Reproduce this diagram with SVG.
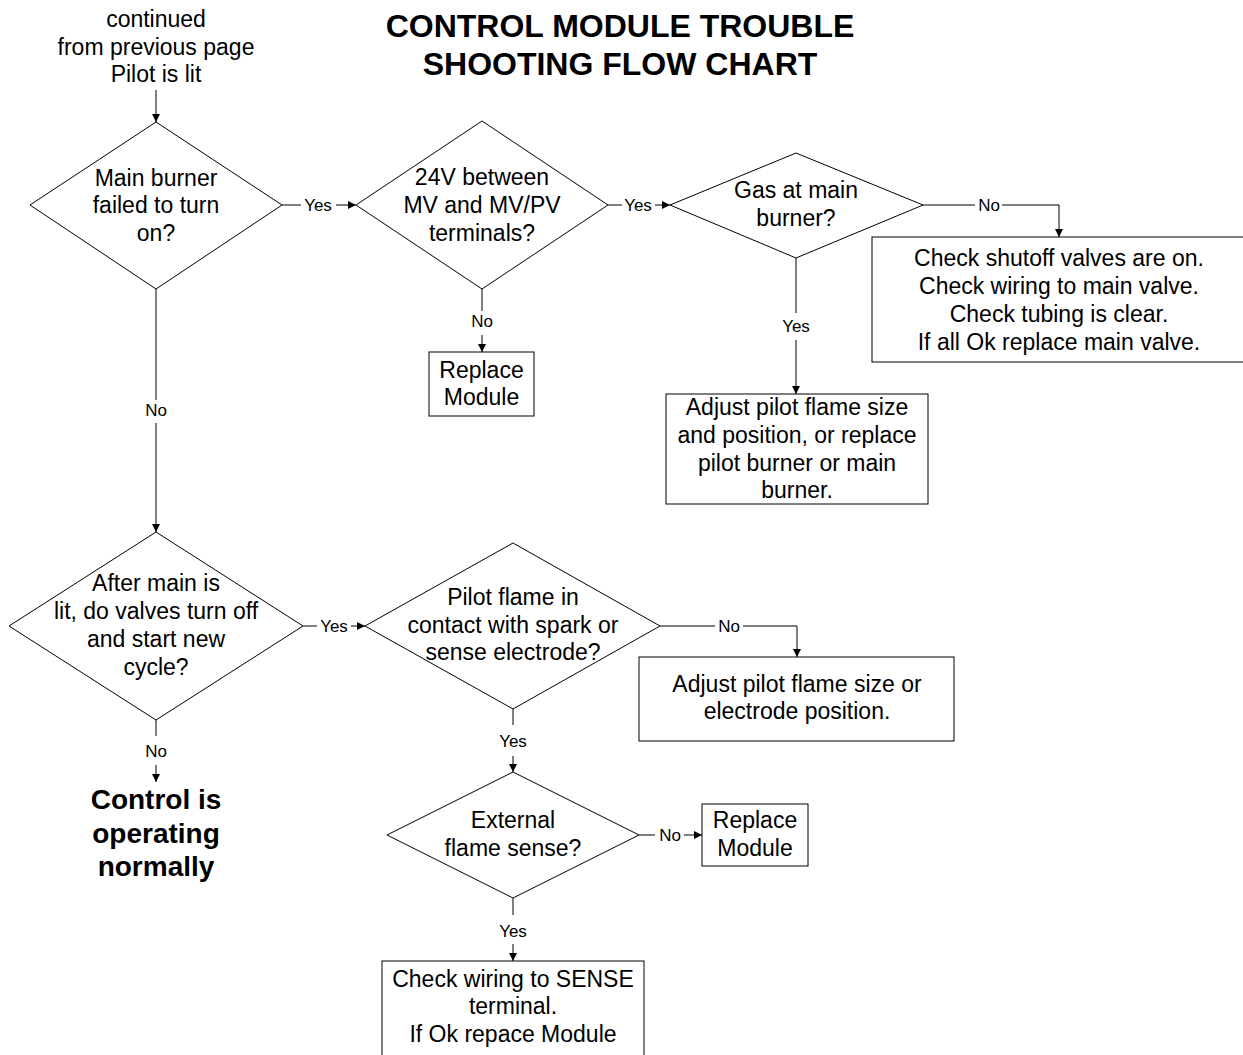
<svg xmlns="http://www.w3.org/2000/svg" width="1243" height="1055" viewBox="0 0 1243 1055">
<defs>
<marker id="ah" viewBox="0 0 10 10" refX="10" refY="5" markerWidth="8" markerHeight="8" markerUnits="userSpaceOnUse" orient="auto">
<path d="M0,0 L10,5 L0,10 Z" fill="#000"/>
</marker>
<style>
.t{font-family:"Liberation Sans",Arial,sans-serif;font-size:23px;fill:#000;text-anchor:middle}
.lb{font-family:"Liberation Sans",Arial,sans-serif;font-size:17px;fill:#000;text-anchor:middle}
.ttl{font-family:"Liberation Sans",Arial,sans-serif;font-size:32px;font-weight:bold;fill:#000;text-anchor:middle}
.bt{font-family:"Liberation Sans",Arial,sans-serif;font-size:28px;font-weight:bold;fill:#000;text-anchor:middle}
.s{fill:#fff;stroke:#000;stroke-width:1}
.c{fill:none;stroke:#000;stroke-width:1}
.a{fill:none;stroke:#000;stroke-width:1;marker-end:url(#ah)}
</style>
</defs>
<rect width="1243" height="1055" fill="#fff"/>

<g id="title">
<text class="ttl" x="620" y="37">CONTROL MODULE TROUBLE</text>
<text class="ttl" x="620" y="75">SHOOTING FLOW CHART</text>
</g>

<g id="start">
<text class="t" x="156" y="27">continued</text>
<text class="t" x="156" y="55">from previous page</text>
<text class="t" x="156" y="82">Pilot is lit</text>
</g>

<g id="d1">
<polygon class="s" points="156,122 282,205 156,289 30,205"/>
<text class="t" x="156" y="186">Main burner</text>
<text class="t" x="156" y="213">failed to turn</text>
<text class="t" x="156" y="241">on?</text>
</g>

<g id="d2">
<polygon class="s" points="482,121 608,205 482,289 356,205"/>
<text class="t" x="482" y="185">24V between</text>
<text class="t" x="482" y="213">MV and MV/PV</text>
<text class="t" x="482" y="241">terminals?</text>
</g>

<g id="r1">
<rect class="s" x="429" y="352" width="105" height="64"/>
<text class="t" x="481.5" y="378">Replace</text>
<text class="t" x="481.5" y="405">Module</text>
</g>

<g id="d3">
<polygon class="s" points="796,153 923,205 796,258 670,205"/>
<text class="t" x="796" y="198">Gas at main</text>
<text class="t" x="796" y="226">burner?</text>
</g>

<g id="b1">
<rect class="s" x="872" y="237" width="380" height="125"/>
<text class="t" x="1059" y="266">Check shutoff valves are on.</text>
<text class="t" x="1059" y="294">Check wiring to main valve.</text>
<text class="t" x="1059" y="322">Check tubing is clear.</text>
<text class="t" x="1059" y="350">If all Ok replace main valve.</text>
</g>

<g id="b2">
<rect class="s" x="666" y="394" width="262" height="110"/>
<text class="t" x="797" y="415">Adjust pilot flame size</text>
<text class="t" x="797" y="443">and position, or replace</text>
<text class="t" x="797" y="471">pilot burner or main</text>
<text class="t" x="797" y="498">burner.</text>
</g>

<g id="d4">
<polygon class="s" points="156,532 303,626 156,720 9,626"/>
<text class="t" x="156" y="591">After main is</text>
<text class="t" x="156" y="619">lit, do valves turn off</text>
<text class="t" x="156" y="647">and start new</text>
<text class="t" x="156" y="675">cycle?</text>
</g>

<g id="end">
<text class="bt" x="156" y="809">Control is</text>
<text class="bt" x="156" y="843">operating</text>
<text class="bt" x="156" y="876">normally</text>
</g>

<g id="d5">
<polygon class="s" points="513,543 660,626 513,709 365,626"/>
<text class="t" x="513" y="605">Pilot flame in</text>
<text class="t" x="513" y="633">contact with spark or</text>
<text class="t" x="513" y="660">sense electrode?</text>
</g>

<g id="b3">
<rect class="s" x="639" y="657" width="315" height="84"/>
<text class="t" x="797" y="692">Adjust pilot flame size or</text>
<text class="t" x="797" y="719">electrode position.</text>
</g>

<g id="d6">
<polygon class="s" points="513,772 639,835 513,898 387,835"/>
<text class="t" x="513" y="828">External</text>
<text class="t" x="513" y="856">flame sense?</text>
</g>

<g id="r2">
<rect class="s" x="702" y="804" width="106" height="62"/>
<text class="t" x="755" y="828">Replace</text>
<text class="t" x="755" y="856">Module</text>
</g>

<g id="b4">
<rect class="s" x="382" y="961" width="262" height="110"/>
<text class="t" x="513" y="987">Check wiring to SENSE</text>
<text class="t" x="513" y="1014">terminal.</text>
<text class="t" x="513" y="1042">If Ok repace Module</text>
</g>

<g id="connectors">
<line class="a" x1="156" y1="90" x2="156" y2="122"/>
<!-- d1 yes -->
<line class="c" x1="282" y1="205" x2="301" y2="205"/>
<text class="lb" x="318" y="211">Yes</text>
<line class="a" x1="336" y1="205" x2="356" y2="205"/>
<!-- d2 yes -->
<line class="c" x1="608" y1="205" x2="622" y2="205"/>
<text class="lb" x="638" y="211">Yes</text>
<line class="a" x1="655" y1="205" x2="670" y2="205"/>
<!-- d2 no -->
<line class="c" x1="482" y1="289" x2="482" y2="311"/>
<text class="lb" x="482" y="327">No</text>
<line class="a" x1="482" y1="335" x2="482" y2="352"/>
<!-- d3 no -->
<line class="c" x1="923" y1="205" x2="975" y2="205"/>
<text class="lb" x="989" y="211">No</text>
<polyline class="a" points="1002,205 1059,205 1059,237"/>
<!-- d3 yes -->
<line class="c" x1="796" y1="258" x2="796" y2="313"/>
<text class="lb" x="796" y="332">Yes</text>
<line class="a" x1="796" y1="340" x2="796" y2="394"/>
<!-- d1 no -->
<line class="c" x1="156" y1="289" x2="156" y2="400"/>
<text class="lb" x="156" y="416">No</text>
<line class="a" x1="156" y1="423" x2="156" y2="532"/>
<!-- d4 yes -->
<line class="c" x1="303" y1="626" x2="317" y2="626"/>
<text class="lb" x="334" y="632">Yes</text>
<line class="a" x1="351" y1="626" x2="365" y2="626"/>
<!-- d4 no -->
<line class="c" x1="156" y1="720" x2="156" y2="736"/>
<text class="lb" x="156" y="757">No</text>
<line class="a" x1="156" y1="765" x2="156" y2="782"/>
<!-- d5 no -->
<line class="c" x1="660" y1="626" x2="715" y2="626"/>
<text class="lb" x="729" y="632">No</text>
<polyline class="a" points="743,626 797,626 797,657"/>
<!-- d5 yes -->
<line class="c" x1="513" y1="709" x2="513" y2="725"/>
<text class="lb" x="513" y="747">Yes</text>
<line class="a" x1="513" y1="756" x2="513" y2="772"/>
<!-- d6 no -->
<line class="c" x1="639" y1="835" x2="655" y2="835"/>
<text class="lb" x="670" y="841">No</text>
<line class="a" x1="684" y1="835" x2="702" y2="835"/>
<!-- d6 yes -->
<line class="c" x1="513" y1="898" x2="513" y2="915"/>
<text class="lb" x="513" y="937">Yes</text>
<line class="a" x1="513" y1="944" x2="513" y2="961"/>
</g>
</svg>
